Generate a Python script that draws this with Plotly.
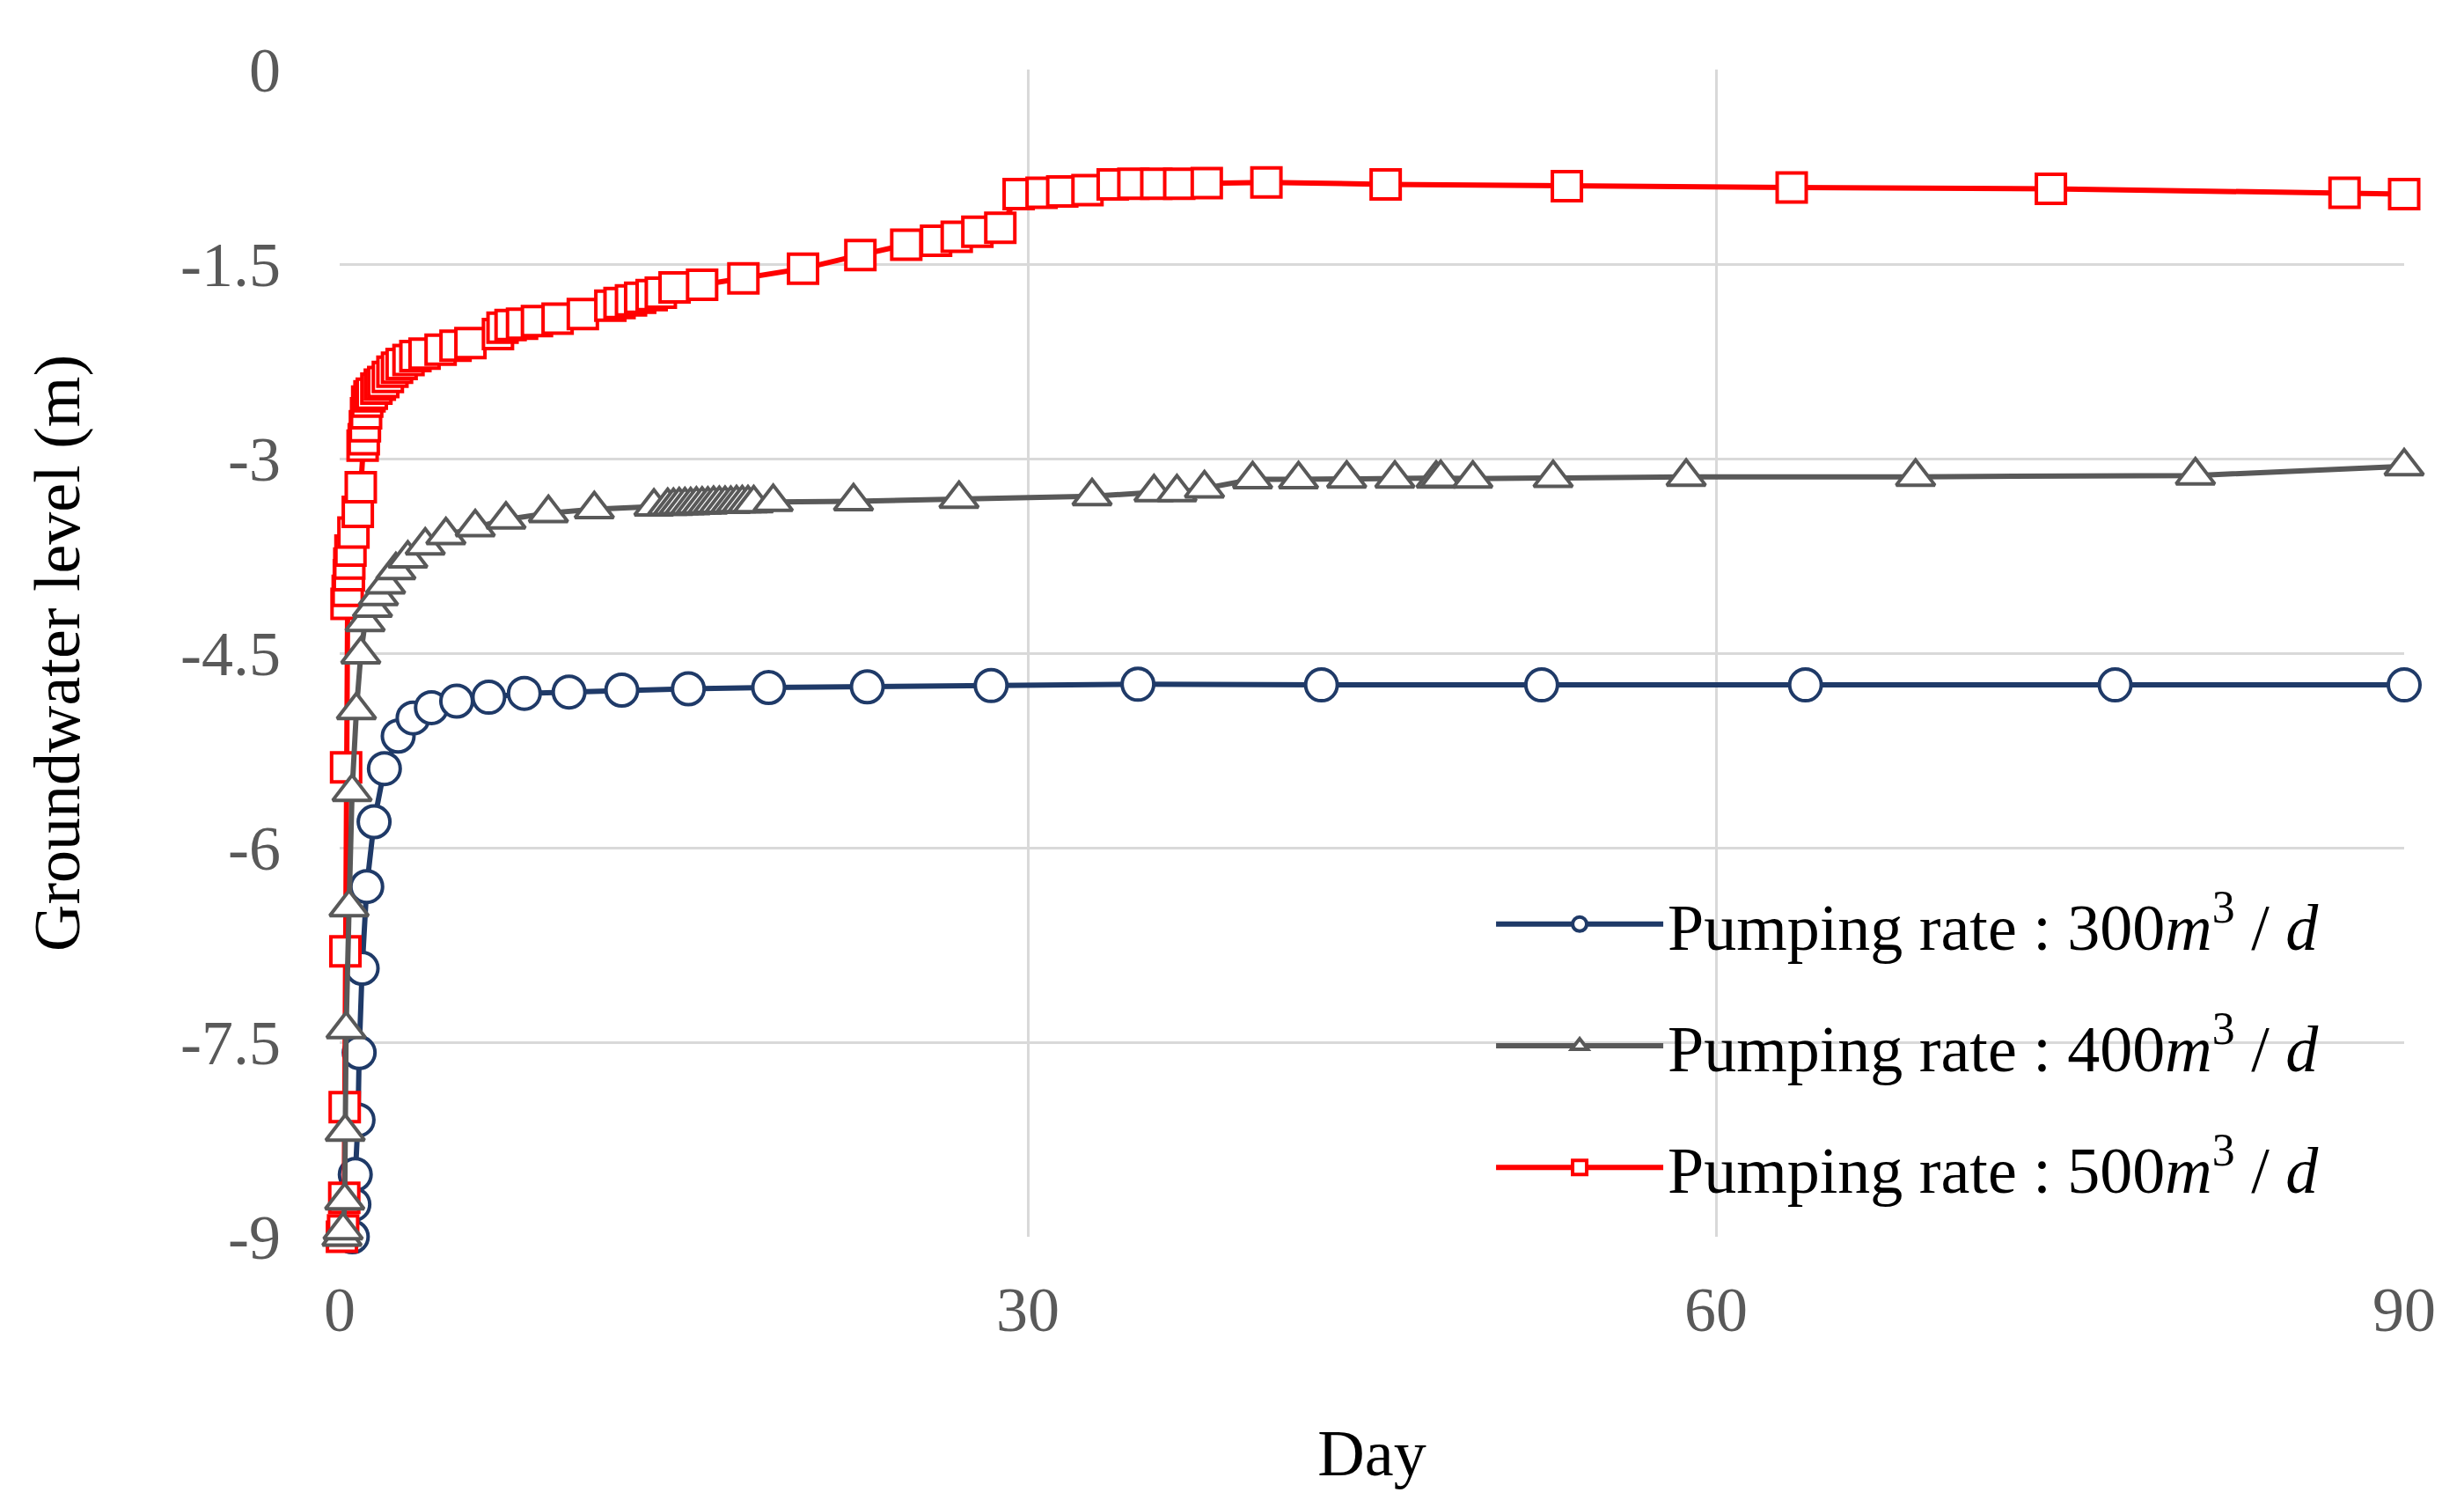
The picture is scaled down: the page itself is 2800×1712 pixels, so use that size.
import plotly.graph_objects as go

# ---------------- data ----------------
day_300 = [0.55, 0.62, 0.68, 0.80, 0.85, 0.98, 1.18, 1.50, 1.95, 2.55, 3.2, 4.0, 5.1, 6.5,
           8.05, 10.0, 12.3, 15.2, 18.7, 23.0, 28.4, 34.8, 42.8, 52.4, 63.9, 77.4, 90.0]
lvl_300 = [-9.0, -8.75, -8.52, -8.10, -7.58, -6.93, -6.30, -5.80, -5.39, -5.14, -5.00, -4.92,
           -4.87, -4.84, -4.81, -4.80, -4.785, -4.775, -4.765, -4.76, -4.75, -4.74, -4.745,
           -4.745, -4.745, -4.745, -4.745]

day_400 = [0.10, 0.15, 0.22, 0.24, 0.28, 0.41, 0.54, 0.73, 0.92, 1.11, 1.43, 1.69, 2.0, 2.45,
           2.97, 3.73, 4.63, 5.91, 7.25, 9.1, 11.1, 13.7,
           14.3, 14.55, 14.8, 15.05, 15.3, 15.55, 15.8, 16.05, 16.3, 16.55, 16.8, 17.05,
           17.3, 17.55, 17.8, 18.05,
           18.9, 22.4, 27.0, 32.8, 35.5, 36.5, 37.7, 39.8, 41.8, 43.9, 46.0, 47.8, 48.0,
           49.4, 52.9, 58.7, 68.7, 80.9, 90.0]
lvl_400 = [-9.0, -8.95, -8.72, -8.19, -7.40, -6.46, -5.57, -4.94, -4.51, -4.26, -4.15, -4.06,
           -3.97, -3.86, -3.77, -3.67, -3.59, -3.53, -3.47, -3.42, -3.39, -3.37,
           -3.365, -3.365, -3.36, -3.36, -3.36, -3.355, -3.355, -3.355, -3.35, -3.35, -3.35,
           -3.35, -3.345, -3.345, -3.345, -3.345,
           -3.335, -3.33, -3.31, -3.29, -3.26, -3.26, -3.23, -3.16, -3.16, -3.155, -3.155,
           -3.155, -3.15, -3.155, -3.15, -3.14, -3.14, -3.13, -3.06]

day_500 = [0.10, 0.15, 0.20, 0.22, 0.25, 0.28, 0.30, 0.35, 0.40, 0.42, 0.47, 0.60, 0.79, 0.92,
           1.0, 1.05, 1.1, 1.15, 1.2, 1.3, 1.4, 1.6, 1.75, 1.9, 2.1, 2.3, 2.5, 2.7, 3.0, 3.3,
           3.7, 4.4, 5.05, 5.7, 6.9, 7.1, 7.45, 7.95, 8.6, 9.5, 10.6, 11.8, 12.2, 12.7, 13.1,
           13.6, 14.0, 14.6, 15.8, 17.6, 20.2, 22.7, 24.7, 26.0, 26.9, 27.8, 28.8, 29.6, 30.6,
           31.5, 32.6, 33.7, 34.6, 35.6, 36.6, 37.8, 40.4, 45.6, 53.5, 63.3, 74.6, 87.4, 90.0]
lvl_500 = [-9.0, -8.95, -8.70, -8.0, -6.80, -5.38, -4.12, -4.02, -3.90, -3.81, -3.71, -3.57,
           -3.41, -3.22, -2.90, -2.85, -2.75, -2.65, -2.56, -2.52, -2.50, -2.46, -2.43, -2.41,
           -2.37, -2.33, -2.30, -2.27, -2.24, -2.21, -2.19, -2.16, -2.13, -2.11, -2.04, -1.99,
           -1.97, -1.96, -1.94, -1.92, -1.885, -1.82, -1.80, -1.78, -1.76, -1.74, -1.72,
           -1.68, -1.66, -1.61, -1.535, -1.43, -1.35, -1.32, -1.29, -1.25, -1.22, -0.96,
           -0.95, -0.94, -0.93, -0.885, -0.88, -0.88, -0.88, -0.875, -0.87, -0.885, -0.90,
           -0.91, -0.92, -0.95, -0.96]

x_ticks = [0, 30, 60, 90]
y_ticks = [0, -1.5, -3, -4.5, -6, -7.5, -9]
y_tick_text = ["0", "-1.5", "-3", "-4.5", "-6", "-7.5", "-9"]

names = ["Pumping rate : 300<i>m</i><sup>3</sup> / <i>d</i>",
         "Pumping rate : 400<i>m</i><sup>3</sup> / <i>d</i>",
         "Pumping rate : 500<i>m</i><sup>3</sup> / <i>d</i>"]

BLUE = "#1F3A68"
GRAY = "#595959"
RED = "#FF0000"
FONT = "Liberation Serif"

fig = go.Figure()

def add(x, y, name, color, symbol, size, rank):
    fig.add_trace(go.Scatter(
        x=x, y=y, name=name, mode="lines+markers", cliponaxis=False,
        legendrank=rank, legendgroup=name,
        line=dict(color=color, width=6),
        marker=dict(symbol=symbol, size=size, color="white",
                    line=dict(color=color, width=4)),
    ))

# draw order: blue, red, gray (gray on top), legend order blue, gray, red
add(day_300, lvl_300, names[0], BLUE, "circle", 36, 1)
add(day_500, lvl_500, names[2], RED, "square", 33, 3)
add(day_400, lvl_400, names[1], GRAY, "triangle-up", 38, 2)

fig.update_layout(
    width=2784, height=1696,
    margin=dict(l=378, r=60, t=71, b=299),
    paper_bgcolor="white", plot_bgcolor="white",
    font=dict(family=FONT, color="black"),
    showlegend=True,
    legend=dict(x=0.558, xanchor="left", y=0.309, yanchor="top",
                bgcolor="rgba(0,0,0,0)", borderwidth=0,
                font=dict(family=FONT, size=74, color="black"),
                tracegroupgap=39, itemwidth=190),
)

fig.update_xaxes(
    range=[0, 90], tickvals=x_ticks, showgrid=True, gridcolor="#D9D9D9", gridwidth=3,
    zeroline=False, showline=False, ticks="", ticklabelstandoff=34,
    tickfont=dict(family=FONT, size=72, color=GRAY),
    title=dict(text="Day", font=dict(family=FONT, size=74, color="black"), standoff=97),
)
fig.update_yaxes(
    range=[-9, 0], tickvals=y_ticks, ticktext=y_tick_text, showgrid=True,
    gridcolor="#D9D9D9", gridwidth=3, zeroline=False, showline=False, ticks="",
    ticklabelstandoff=66,
    tickfont=dict(family=FONT, size=72, color=GRAY),
    title=dict(text="Groundwater level (m)", font=dict(family=FONT, size=74, color="black"),
               standoff=90),
)

fig.write_html("out.html")
